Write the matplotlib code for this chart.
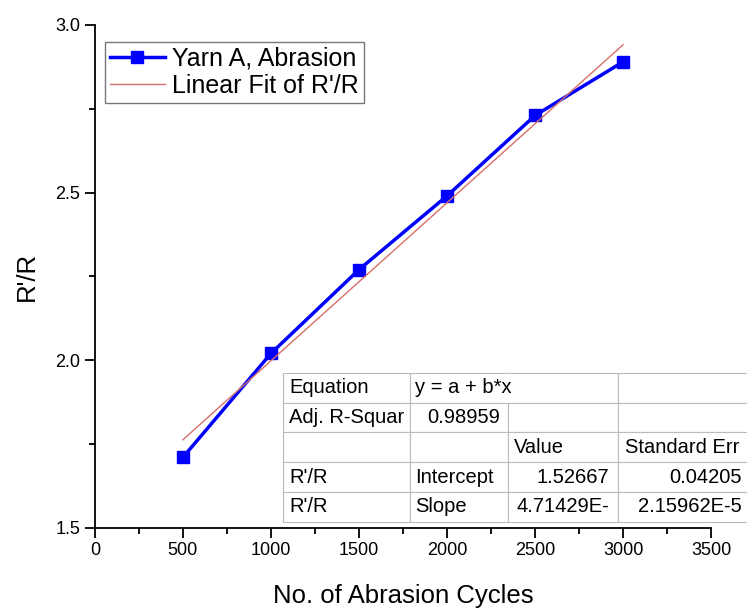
import numpy as np
import matplotlib.pyplot as plt
from matplotlib.ticker import MultipleLocator

plt.rcParams['font.family'] = ['Liberation Sans', 'DejaVu Sans']

cycles = [500, 1000, 1500, 2000, 2500, 3000]
ratio = [1.71, 2.02, 2.27, 2.49, 2.73, 2.89]

table_rows = [
    ['Equation', 'y = a + b*x', '', ''],
    ['Adj. R-Squar', '0.98959', '', ''],
    ['', '', 'Value', 'Standard Err'],
    ["R'/R", 'Intercept', '1.52667', '0.04205'],
    ["R'/R", 'Slope', '4.71429E-', '2.15962E-5'],
]


def main():
    fig = plt.figure(figsize=(7.47, 6.08), dpi=100)
    ax = fig.add_axes([0.127, 0.132, 0.825, 0.827])

    ax.plot(cycles, ratio, color='#0000ff', lw=2.5, marker='s', ms=9,
            mec='#0000ff', mfc='#0000ff', label='Yarn A, Abrasion', zorder=3)

    # linear fit from the data
    b, a = np.polyfit(cycles, ratio, 1)
    xs = np.array([cycles[0], cycles[-1]])
    ax.plot(xs, a + b * xs, color='#d9706a', lw=1, label="Linear Fit of R'/R", zorder=4)

    ax.set_xlim(0, 3500)
    ax.set_ylim(1.5, 3.0)
    ax.xaxis.set_major_locator(MultipleLocator(500))
    ax.xaxis.set_minor_locator(MultipleLocator(250))
    ax.yaxis.set_major_locator(MultipleLocator(0.5))
    ax.yaxis.set_minor_locator(MultipleLocator(0.25))
    ax.yaxis.set_major_formatter(plt.FormatStrFormatter('%.1f'))
    ax.tick_params(which='major', direction='out', length=7, width=1.3, labelsize=13)
    ax.tick_params(which='minor', direction='out', length=4, width=1.3)
    for s in ['top', 'right']:
        ax.spines[s].set_visible(False)
    for s in ['left', 'bottom']:
        ax.spines[s].set_linewidth(1.3)

    ax.set_xlabel('No. of Abrasion Cycles', fontsize=18.5, labelpad=18)
    ax.set_ylabel("R'/R", fontsize=18.5, labelpad=12)

    leg = ax.legend(loc='upper left', bbox_to_anchor=(0.016, 0.967), fontsize=18,
                    frameon=True, fancybox=False, edgecolor='#555555',
                    handlelength=2.2, handletextpad=0.3, borderpad=0.2,
                    labelspacing=0.12, borderaxespad=0, markerscale=0.9)
    leg.get_frame().set_linewidth(1)

    # fit results table (runs to the right edge like the original)
    x0 = (283 - 95) / 616
    w = (752 - 283) / 616
    y0 = (528 - 522) / 503
    h = (522 - 373) / 503
    tbl = ax.table(cellText=table_rows, bbox=[x0, y0, w, h],
                   colWidths=[127, 98, 110, 134], cellLoc='left')
    tbl.auto_set_font_size(False)
    tbl.set_fontsize(14.5)
    for (r, c), cell in tbl.get_celld().items():
        cell.set_edgecolor('#bbbbbb')
        cell.set_linewidth(0.8)
        cell.set_facecolor('white')
        cell.PAD = 0.05
        if (r >= 3 and c >= 2) or (r == 1 and c == 1):
            cell.get_text().set_ha('right')
            cell.PAD = 0.08
    # equation spans two columns
    tbl[0, 1].visible_edges = 'BTL'
    tbl[0, 2].visible_edges = 'BTR'
    tbl[0, 2].set_facecolor('none')
    tbl.set_zorder(5)

    fig.savefig('out.png', dpi=100)


if __name__ == '__main__':
    main()
